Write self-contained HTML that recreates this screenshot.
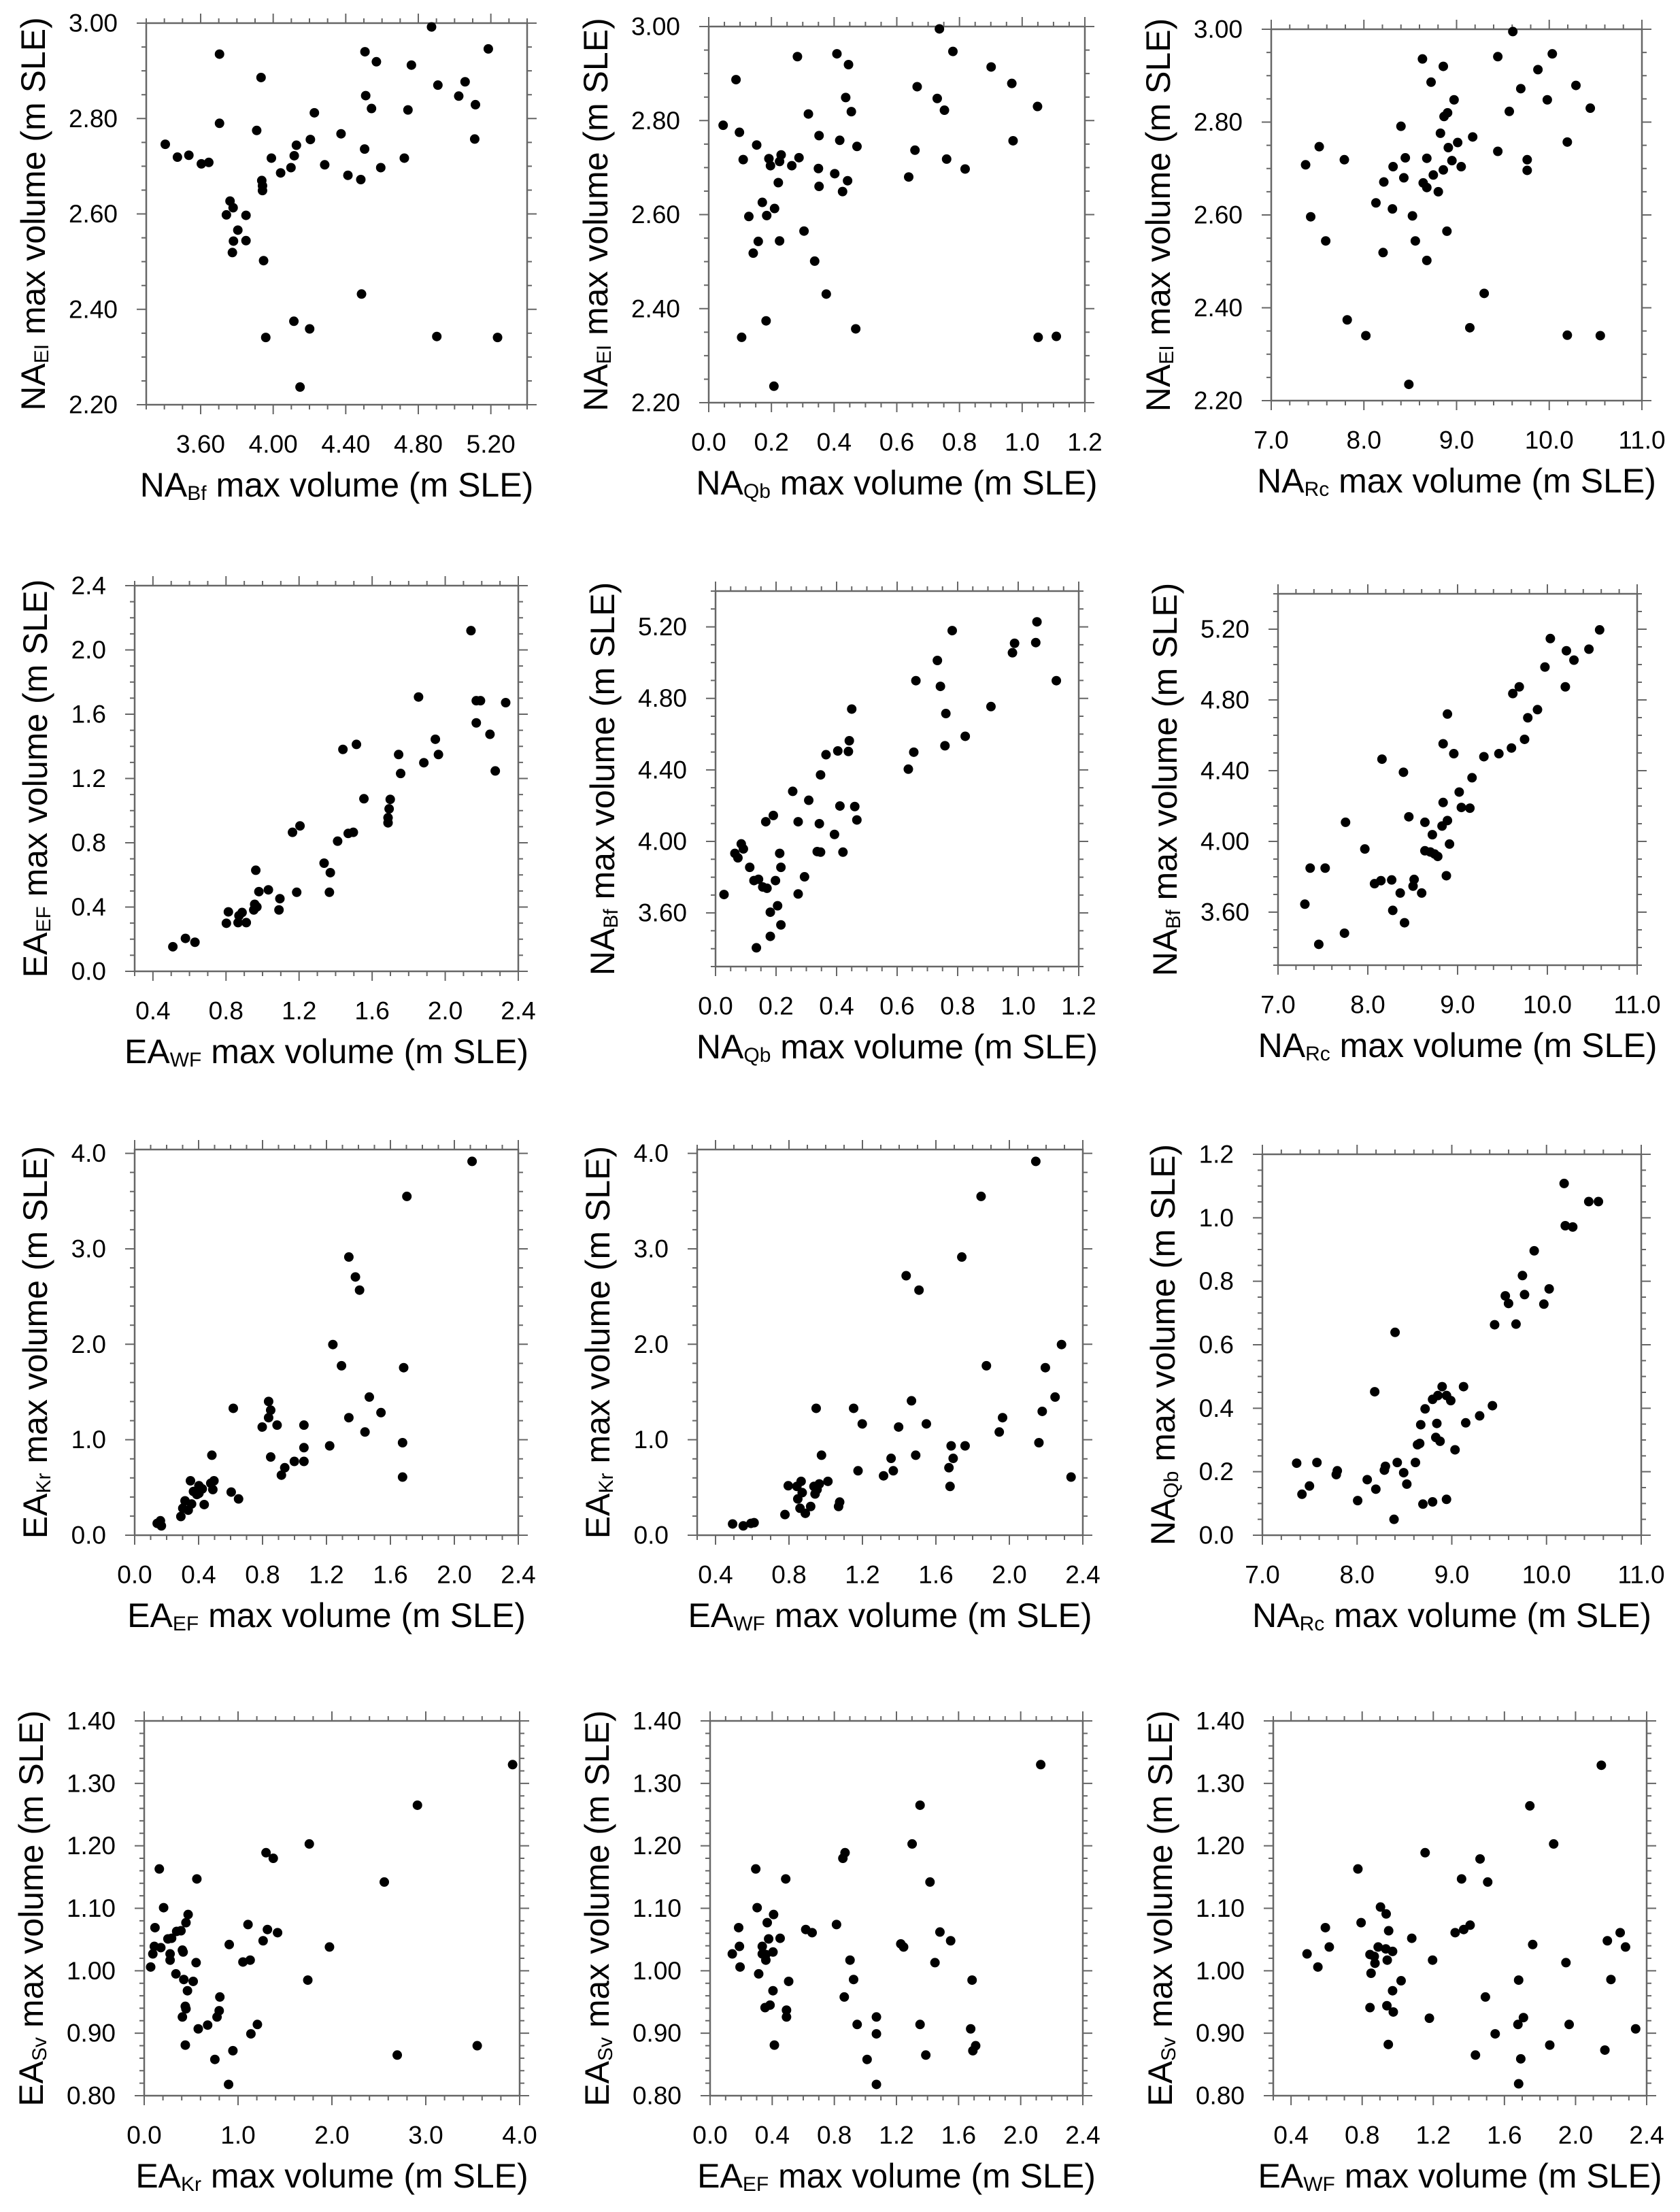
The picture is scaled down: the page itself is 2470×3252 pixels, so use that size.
<!DOCTYPE html>
<html><head><meta charset="utf-8"><style>
html,body{margin:0;padding:0;background:#fff;}
svg{display:block;font-family:"Liberation Sans",Arial,sans-serif;}
</style></head><body>
<svg id="fig" xmlns="http://www.w3.org/2000/svg" width="2470" height="3252" viewBox="0 0 2470 3252"><rect width="2470" height="3252" fill="#fff"/></svg>
<script>
const p1X=[3.405,3.472,3.535,3.604,3.645,3.704,3.704,3.909,3.933,3.762,3.779,3.742,3.850,3.805,3.781,3.850,3.775,3.947,3.937,3.941,3.941,3.990,4.041,4.098,4.116,4.128,4.205,4.227,4.284,4.374,4.412,4.483,4.504,4.506,4.510,4.542,4.569,4.593,4.723,4.743,4.762,4.873,4.908,5.023,5.058,5.115,5.111,5.186,4.487,4.114,4.201,3.959,4.902,5.237,4.148];
const p1Y=[2.746,2.719,2.723,2.705,2.708,2.935,2.790,2.775,2.886,2.627,2.613,2.598,2.597,2.566,2.543,2.544,2.519,2.502,2.670,2.659,2.649,2.717,2.686,2.697,2.722,2.744,2.756,2.812,2.703,2.768,2.681,2.672,2.736,2.940,2.848,2.821,2.919,2.697,2.717,2.818,2.912,2.992,2.870,2.847,2.877,2.829,2.757,2.946,2.432,2.375,2.359,2.341,2.343,2.341,2.237];
const p2X=[0.046,0.087,0.098,0.105,0.110,0.128,0.142,0.153,0.158,0.171,0.183,0.185,0.192,0.197,0.210,0.208,0.222,0.226,0.226,0.231,0.265,0.283,0.288,0.304,0.318,0.338,0.350,0.352,0.352,0.375,0.402,0.409,0.418,0.427,0.437,0.446,0.443,0.455,0.469,0.473,0.638,0.658,0.665,0.729,0.736,0.752,0.759,0.779,0.818,0.901,0.967,0.971,1.049,1.051,1.109];
const p2Y=[2.790,2.887,2.775,2.339,2.717,2.596,2.518,2.748,2.543,2.626,2.374,2.598,2.719,2.704,2.613,2.235,2.668,2.713,2.544,2.727,2.704,2.936,2.721,2.565,2.814,2.501,2.698,2.768,2.660,2.431,2.687,2.942,2.758,2.649,2.849,2.919,2.672,2.819,2.357,2.745,2.680,2.737,2.872,2.847,2.995,2.822,2.718,2.947,2.697,2.914,2.879,2.757,2.830,2.339,2.341];
const p3X=[7.371,7.426,7.518,7.588,7.789,7.820,8.021,8.130,8.207,8.215,8.308,8.315,8.400,8.431,8.447,8.485,8.524,8.555,8.632,8.640,8.679,8.679,8.679,8.725,8.749,8.803,8.826,8.857,8.857,8.865,8.903,8.896,8.911,8.950,8.973,9.012,9.050,9.143,9.174,9.298,9.445,9.445,9.569,9.607,9.693,9.762,9.762,9.878,9.979,10.033,10.195,10.195,10.288,10.443,10.551];
const p3Y=[2.708,2.596,2.747,2.544,2.719,2.374,2.340,2.626,2.519,2.671,2.613,2.704,2.791,2.680,2.723,2.235,2.598,2.544,2.936,2.669,2.722,2.659,2.502,2.886,2.686,2.650,2.776,2.920,2.697,2.812,2.820,2.565,2.745,2.717,2.848,2.756,2.704,2.357,2.768,2.431,2.737,2.941,2.823,2.995,2.872,2.719,2.696,2.913,2.848,2.947,2.757,2.341,2.879,2.830,2.340];
const p4X=[0.509,0.578,0.630,0.802,0.813,0.866,0.871,0.888,0.911,0.952,0.957,0.963,0.969,0.980,1.032,1.090,1.095,1.164,1.205,1.187,1.337,1.371,1.366,1.411,1.440,1.469,1.497,1.514,1.555,1.687,1.687,1.693,1.699,1.745,1.756,1.854,1.883,1.946,1.963,2.141,2.170,2.170,2.193,2.245,2.274,2.331];
const p4Y=[0.153,0.205,0.181,0.299,0.370,0.303,0.346,0.366,0.303,0.382,0.417,0.629,0.401,0.496,0.507,0.382,0.452,0.865,0.905,0.492,0.673,0.614,0.492,0.810,1.381,0.858,0.865,1.412,1.074,0.924,0.956,1.011,1.070,1.349,1.231,1.707,1.298,1.444,1.349,2.120,1.546,1.684,1.684,1.475,1.247,1.672];
const p5X=[0.028,0.064,0.074,0.085,0.092,0.113,0.127,0.135,0.142,0.156,0.166,0.170,0.181,0.181,0.191,0.198,0.205,0.212,0.216,0.216,0.255,0.273,0.273,0.294,0.308,0.336,0.343,0.347,0.347,0.365,0.393,0.404,0.411,0.421,0.439,0.442,0.450,0.460,0.467,0.637,0.655,0.662,0.733,0.743,0.758,0.761,0.782,0.825,0.910,0.981,0.988,1.058,1.062,1.126];
const p5Y=[3.703,3.933,3.908,3.986,3.958,3.855,3.781,3.405,3.788,3.745,4.110,3.738,3.604,3.469,4.145,3.781,3.640,3.933,3.533,3.855,4.280,4.110,3.706,3.802,4.230,3.943,4.099,3.940,4.372,4.485,4.039,4.506,4.198,3.940,4.503,4.563,4.740,4.195,4.120,4.404,4.499,4.899,5.012,4.867,4.535,4.715,5.179,4.588,4.754,5.055,5.108,5.112,5.228,4.899];
const p6X=[7.299,7.358,7.454,7.525,7.740,7.752,7.967,8.075,8.158,8.146,8.266,8.278,8.361,8.397,8.409,8.457,8.504,8.516,8.600,8.636,8.636,8.696,8.719,8.743,8.779,8.827,8.839,8.839,8.875,8.887,8.887,8.910,8.958,9.018,9.042,9.137,9.161,9.293,9.460,9.600,9.615,9.687,9.746,9.782,9.890,9.973,10.033,10.200,10.212,10.296,10.463,10.582];
const p6Y=[3.645,3.849,3.418,3.849,3.481,4.108,3.957,3.761,4.465,3.778,3.782,3.610,3.708,4.391,3.540,4.139,3.747,3.785,3.708,4.108,3.947,3.940,4.038,3.929,3.915,4.087,4.220,4.552,3.806,4.118,4.720,3.985,4.496,4.279,4.192,4.188,4.360,4.479,4.496,4.528,4.836,4.874,4.577,4.699,4.745,4.986,5.147,4.874,5.078,5.025,5.087,5.196];
const p7X=[0.141,0.167,0.161,0.289,0.301,0.315,0.335,0.349,0.356,0.368,0.389,0.402,0.402,0.423,0.435,0.476,0.483,0.489,0.496,0.604,0.617,0.650,0.798,0.838,0.838,0.851,0.851,0.891,0.918,0.939,0.999,1.059,1.059,1.059,1.220,1.240,1.294,1.340,1.340,1.381,1.407,1.441,1.468,1.541,1.676,1.676,1.683,1.703,2.111];
const p7Y=[0.124,0.098,0.151,0.196,0.282,0.360,0.262,0.570,0.327,0.458,0.426,0.518,0.439,0.485,0.321,0.544,0.838,0.478,0.570,0.452,1.329,0.380,1.133,1.231,1.401,1.310,0.819,1.153,0.629,0.707,0.773,0.773,0.917,1.153,0.936,1.997,1.775,1.231,2.914,2.705,2.567,1.081,1.447,1.284,0.609,0.969,1.755,3.549,3.916];
const p8X=[0.493,0.551,0.593,0.610,0.778,0.796,0.843,0.848,0.860,0.866,0.872,0.889,0.918,0.936,0.942,0.948,0.953,0.965,0.977,1.012,1.070,1.076,1.152,1.176,1.199,1.315,1.356,1.368,1.397,1.438,1.467,1.490,1.508,1.548,1.671,1.683,1.677,1.694,1.741,1.759,1.846,1.875,1.945,1.963,2.144,2.161,2.179,2.196,2.249,2.284,2.336];
const p8Y=[0.118,0.098,0.124,0.131,0.216,0.518,0.511,0.380,0.282,0.564,0.446,0.229,0.301,0.511,0.432,1.329,0.478,0.537,0.838,0.564,0.301,0.347,1.329,0.675,1.166,0.622,0.805,0.675,1.133,2.718,1.408,0.838,2.567,1.166,0.707,0.936,0.511,0.805,2.914,0.936,3.549,1.775,1.081,1.231,3.916,0.969,1.297,1.755,1.447,1.997,0.609];
const p9X=[7.362,7.418,7.497,7.576,7.780,7.791,8.006,8.107,8.186,8.198,8.288,8.299,8.390,8.401,8.424,8.492,8.525,8.616,8.638,8.661,8.672,8.695,8.718,8.797,8.797,8.831,8.842,8.853,8.876,8.898,8.944,8.944,8.989,9.034,9.124,9.147,9.294,9.429,9.452,9.565,9.599,9.678,9.746,9.768,9.870,9.972,10.028,10.186,10.198,10.277,10.446,10.548];
const p9Y=[0.227,0.129,0.155,0.229,0.191,0.203,0.109,0.175,0.452,0.145,0.205,0.217,0.050,0.639,0.229,0.197,0.161,0.229,0.285,0.289,0.348,0.098,0.398,0.105,0.428,0.308,0.352,0.440,0.296,0.468,0.113,0.440,0.424,0.269,0.468,0.354,0.376,0.408,0.663,0.754,0.730,0.665,0.818,0.758,0.896,0.728,0.776,1.108,0.975,0.971,1.051,1.051];
const p10X=[0.069,0.092,0.108,0.115,0.161,0.177,0.207,0.253,0.276,0.276,0.292,0.338,0.346,0.392,0.407,0.407,0.415,0.422,0.438,0.445,0.438,0.445,0.461,0.468,0.522,0.553,0.561,0.576,0.676,0.753,0.776,0.799,0.806,0.899,0.906,0.945,1.052,1.106,1.129,1.137,1.206,1.267,1.298,1.313,1.375,1.421,1.743,1.759,1.974,2.558,2.696,2.911,3.548,3.925];
const p10Y=[1.006,1.027,1.039,1.069,1.163,1.037,1.101,1.051,1.027,1.017,1.052,0.995,1.063,1.064,1.033,0.926,1.030,0.986,0.943,0.939,0.881,1.077,0.968,1.090,0.983,1.013,1.147,0.907,0.913,0.858,0.926,0.936,0.958,0.818,1.042,0.872,1.014,1.074,1.017,0.899,0.914,1.048,1.189,1.066,1.180,1.061,0.985,1.203,1.038,1.142,0.865,1.265,0.880,1.330];
const p11X=[0.143,0.184,0.189,0.193,0.294,0.303,0.313,0.336,0.336,0.354,0.359,0.359,0.368,0.377,0.386,0.405,0.405,0.409,0.414,0.451,0.487,0.492,0.492,0.506,0.616,0.657,0.814,0.855,0.869,0.864,0.901,0.924,0.947,1.011,1.071,1.071,1.071,1.228,1.246,1.301,1.352,1.352,1.389,1.416,1.448,1.480,1.549,1.678,1.687,1.692,1.710,2.129];
const p11Y=[1.027,1.069,1.039,1.006,1.163,1.101,0.995,1.027,1.039,0.941,1.017,1.026,1.077,1.051,0.945,1.030,0.968,1.090,0.881,1.052,1.147,0.937,0.926,0.983,1.066,1.061,1.074,1.180,1.189,0.958,1.017,0.986,0.914,0.858,0.926,0.899,0.818,1.043,1.038,1.203,1.265,0.914,0.865,1.142,1.013,1.062,1.048,0.907,0.985,0.872,0.880,1.330];
const p12X=[0.490,0.551,0.593,0.615,0.776,0.794,0.844,0.868,0.872,0.850,0.844,0.890,0.903,0.935,0.949,0.933,0.971,0.941,0.971,0.939,0.975,0.947,1.019,1.079,1.154,1.196,1.178,1.323,1.359,1.371,1.407,1.463,1.506,1.493,1.437,1.548,1.743,1.759,1.680,1.676,1.707,1.692,1.680,1.877,1.855,1.946,1.964,2.145,2.179,2.199,2.165,2.251,2.281,2.338];
const p12Y=[1.027,1.006,1.069,1.038,1.163,1.077,1.026,1.023,1.012,0.996,0.941,1.038,1.102,1.091,1.064,1.035,1.031,1.017,0.968,0.944,0.934,0.882,0.984,1.052,1.189,1.017,0.924,1.061,1.147,1.066,1.073,1.179,1.142,0.958,0.865,0.899,1.264,1.042,0.985,0.914,0.925,0.859,0.819,1.203,0.881,1.013,0.914,1.329,1.048,0.986,0.873,1.061,1.038,0.907];

const NS='http://www.w3.org/2000/svg';
const svg=document.getElementById('fig');
function mk(tag,attrs,parent){const e=document.createElementNS(NS,tag);for(const k in attrs)e.setAttribute(k,attrs[k]);(parent||svg).appendChild(e);return e;}
function range(a,b,s){const o=[];const n=Math.round((b-a)/s);for(let i=0;i<=n+0.0001;i++){const v=a+i*s;if(v<=b+1e-9)o.push(v);}return o;}
function addTitle(g,x,y,main,sub,rot,name){
  const t=mk('text',{x:x,y:y,'font-size':50,'text-anchor':'middle','dominant-baseline':'central',fill:'#000'},g);
  
  
  if(rot)t.setAttribute('transform','rotate(-90 '+x+' '+y+')');
  const a=mk('tspan',{},t);a.textContent=main[0];
  const s=mk('tspan',{'font-size':30,dy:12},t);s.textContent=sub;
  const b=mk('tspan',{dy:-12},t);b.textContent=main[1];
}
function panel(id,xs,ys,c){
  const g=mk('g',{});
  
  
  const X=v=>c.l+(v-c.x0)/(c.x1-c.x0)*(c.r-c.l);
  const Y=v=>c.b-(v-c.y0)/(c.y1-c.y0)*(c.b-c.t);
  const col='#666';
  const xMaj=range(c.xs,c.x1,c.xm), yMaj=range(c.ys,c.y1,c.ym);
  const isMaj=(v,arr)=>arr.some(m=>Math.abs(m-v)<1e-6);
  const xMin=range(Math.ceil((c.x0-1e-9)/c.xn)*c.xn,c.x1,c.xn).filter(v=>!isMaj(v,xMaj));
  const yMin=range(Math.ceil((c.y0-1e-9)/c.yn)*c.yn,c.y1,c.yn).filter(v=>!isMaj(v,yMaj));
  let d='';
  xMaj.forEach(v=>{const x=X(v);d+='M'+x+' '+c.b+'v14M'+x+' '+c.t+'v-14';});
  xMin.forEach(v=>{const x=X(v);d+='M'+x+' '+c.b+'v7M'+x+' '+c.t+'v-7';});
  yMaj.forEach(v=>{const y=Y(v);d+='M'+c.l+' '+y+'h-14M'+c.r+' '+y+'h14';});
  yMin.forEach(v=>{const y=Y(v);d+='M'+c.l+' '+y+'h-7M'+c.r+' '+y+'h7';});
  const tk=mk('path',{d:d,stroke:col,'stroke-width':2,fill:'none'},g);
  
  
  const fr=mk('rect',{x:c.l,y:c.t,width:c.r-c.l,height:c.b-c.t,fill:'none',stroke:col,'stroke-width':2.5},g);
  
  
  xMaj.forEach(v=>{
    const t=mk('text',{x:X(v),y:c.b+58,'font-size':37,'text-anchor':'middle','dominant-baseline':'central'},g);
    
    
    t.textContent=v.toFixed(c.xd);
  });
  yMaj.forEach(v=>{
    const t=mk('text',{x:c.l-42,y:Y(v),'font-size':37,'text-anchor':'end','dominant-baseline':'central'},g);
    
    
    t.textContent=v.toFixed(c.yd);
  });
  for(let i=0;i<xs.length;i++){
    const p=mk('circle',{cx:X(xs[i]),cy:Y(ys[i]),r:7,fill:'#000'},g);
    
    
  }
  addTitle(g,(c.l+c.r)/2,c.b+118,['NA'.slice(0,0)+c.xt[0],c.xt[2]],c.xt[1],false,'x-axis-title');
  const lw=c.yd===2?72:52;
  addTitle(g,c.l-42-lw-52,(c.t+c.b)/2,[c.yt[0],c.yt[2]],c.yt[1],true,'y-axis-title');
}
const T=' max volume (m SLE)';
const ax={
 bf:{r:[3.3,5.4],s:3.6,m:0.4,n:0.1,d:2},
 ei:{r:[2.2,3.0],s:2.2,m:0.2,n:0.05,d:2},
 qb:{r:[0,1.2],s:0,m:0.2,n:0.05,d:1},
 rc:{r:[7,11],s:7,m:1,n:0.2,d:1},
 wf:{r:[0.3,2.4],s:0.4,m:0.4,n:0.1,d:1},
 ef:{r:[0,2.4],s:0,m:0.4,n:0.1,d:1},
 kr:{r:[0,4.04],s:0,m:1,n:0.2,d:1},
 kr4:{r:[0,4.0],s:0,m:1,n:0.2,d:1},
 sv:{r:[0.8,1.4],s:0.8,m:0.1,n:0.02,d:2},
 qby:{r:[0,1.2],s:0,m:0.2,n:0.05,d:1}
};
const lab={bf:['NA','Bf'],ei:['NA','EI'],qb:['NA','Qb'],rc:['NA','Rc'],wf:['EA','WF'],ef:['EA','EF'],kr:['EA','Kr'],kr4:['EA','Kr'],sv:['EA','Sv'],qby:['NA','Qb']};
function cfg(box,xa,ya){const a=ax[xa],b=ax[ya];return {l:box[0],t:box[1],r:box[2],b:box[3],x0:a.r[0],x1:a.r[1],xs:a.s,xm:a.m,xn:a.n,xd:a.d,y0:b.r[0],y1:b.r[1],ys:b.s,ym:b.m,yn:b.n,yd:b.d,xt:[lab[xa][0],lab[xa][1],T],yt:[lab[ya][0],lab[ya][1],T]};}
panel(1,p1X,p1Y,cfg([215,34,775,595],'bf','ei'));
panel(2,p2X,p2Y,cfg([1042,39,1595,592],'qb','ei'));
panel(3,p3X,p3Y,cfg([1869,43,2414,589],'rc','ei'));
panel(4,p4X,p4Y,cfg([198,861,762,1428],'wf','ef'));
panel(5,p5X,p5Y,cfg([1052,869,1586,1421],'qb','bf'));
panel(6,p6X,p6Y,cfg([1879,873,2407,1419],'rc','bf'));
panel(7,p7X,p7Y,cfg([198,1690,762,2257],'ef','kr'));
panel(8,p8X,p8Y,cfg([1025,1690,1592,2257],'wf','kr'));
panel(9,p9X,p9Y,cfg([1856,1697,2413,2257],'rc','qby'));
panel(10,p10X,p10Y,cfg([212,2530,764,3081],'kr4','sv'));
panel(11,p11X,p11Y,cfg([1044,2530,1592,3081],'ef','sv'));
panel(12,p12X,p12Y,cfg([1872,2530,2421,3081],'wf','sv'));
</script>
</body></html>
